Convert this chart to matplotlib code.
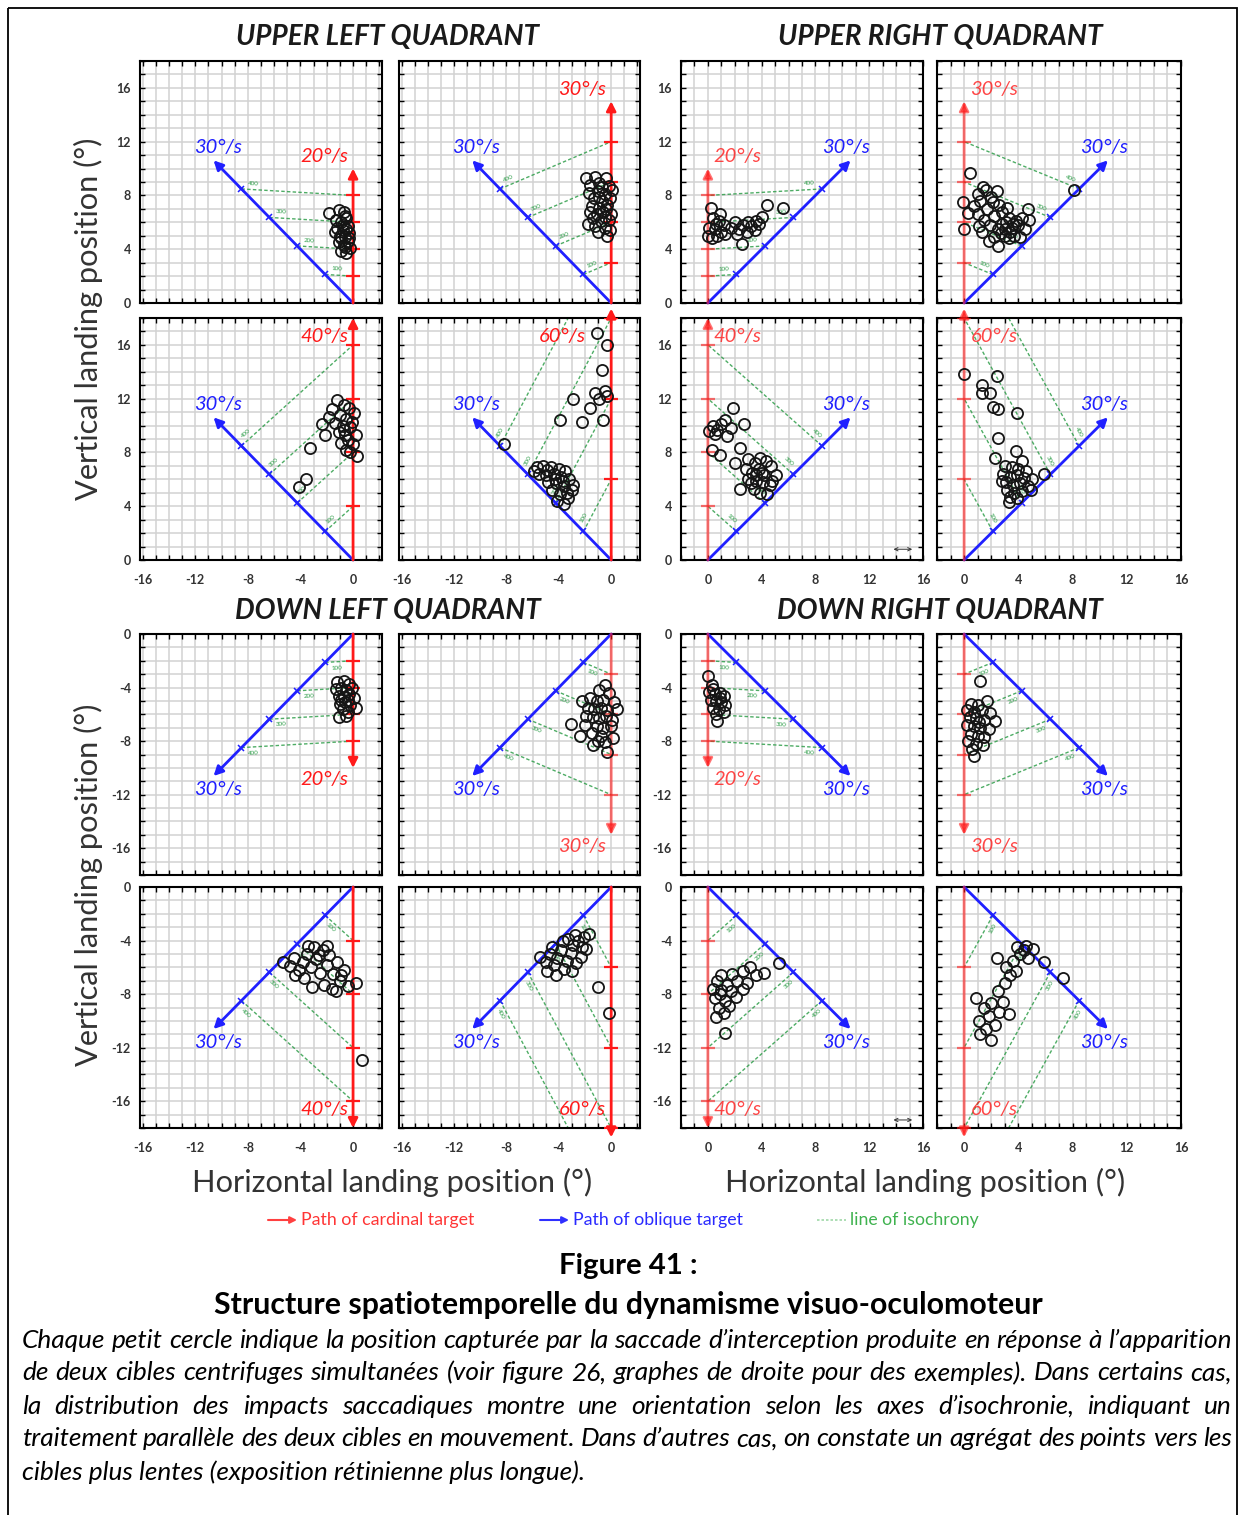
import numpy as np
import matplotlib
matplotlib.use("Agg")
import matplotlib.pyplot as plt
from matplotlib.ticker import MultipleLocator, FuncFormatter
from matplotlib.patches import Rectangle

# ---------------- data ----------------
quadrant_titles = ["UPPER LEFT QUADRANT", "UPPER RIGHT QUADRANT",
                   "DOWN LEFT QUADRANT", "DOWN RIGHT QUADRANT"]
oblique_speed = 30                      # deg/s (blue target)
isochrony_ms = [100, 200, 300, 400]     # isochrony lines
panel_speeds = [[20, 30, 20, 30],       # cardinal (red) target speed per panel
                [40, 60, 40, 60],
                [20, 30, 20, 30],
                [40, 60, 40, 60]]

ul20 = [(-1.8, 6.7), (-1.1, 6.9), (-0.7, 6.8), (-1.3, 6.2), (-0.9, 6.0), (-0.5, 6.3), (-1.2, 5.6),
        (-0.8, 5.4), (-0.4, 5.7), (-1.0, 5.0), (-0.6, 4.9), (-0.3, 5.2), (-1.1, 4.5), (-0.7, 4.3),
        (-0.4, 4.6), (-0.9, 3.9), (-0.5, 3.7), (-0.2, 4.1), (-0.6, 6.5), (-0.8, 5.8), (-1.4, 5.3),
        (-0.3, 4.8), (-0.6, 4.2), (-0.9, 4.8), (-0.5, 5.5)]
ul30 = [(-1.9, 9.3), (-1.2, 9.4), (-0.4, 9.3), (-1.6, 8.8), (-0.9, 8.9), (-0.2, 8.7), (-1.7, 8.2),
        (-1.0, 8.3), (-0.5, 8.1), (0.1, 8.4), (-1.3, 7.8), (-0.7, 7.6), (-0.1, 7.8), (-1.5, 7.2),
        (-0.9, 7.1), (-0.3, 7.3), (-1.1, 6.6), (-0.6, 6.8), (0.0, 6.6), (-1.4, 6.3), (-0.8, 6.1),
        (-0.2, 6.2), (-1.8, 5.9), (-1.2, 5.7), (-0.5, 5.6), (-0.1, 5.4), (-1.0, 5.3), (-0.7, 8.6),
        (-0.4, 7.0), (-1.6, 6.8), (-0.3, 5.0), (-0.9, 7.9), (-0.5, 6.4)]
ur20 = [(0.2, 7.1), (0.0, 5.0), (0.3, 4.8), (0.5, 5.5), (0.8, 6.1), (0.4, 6.3), (1.0, 5.3),
        (1.2, 5.8), (0.7, 5.0), (0.1, 5.6), (0.9, 6.6), (1.3, 5.1), (0.6, 5.9), (2.0, 6.0),
        (2.3, 5.5), (2.6, 5.8), (2.9, 5.3), (3.2, 5.7), (3.5, 5.4), (3.8, 5.9), (4.0, 6.4),
        (2.2, 5.1), (3.0, 6.0), (3.6, 6.1), (2.5, 4.4), (4.4, 7.3), (5.6, 7.1), (1.7, 5.6)]
ur30 = [(0.4, 9.7), (-0.1, 7.5), (0.0, 5.5), (0.3, 6.7), (1.0, 8.1), (1.4, 8.6), (1.6, 8.4),
        (2.4, 8.3), (1.2, 7.6), (2.1, 7.5), (2.6, 7.3), (1.7, 7.0), (3.2, 7.1), (4.7, 7.0),
        (8.1, 8.4), (1.0, 6.6), (1.5, 6.2), (2.2, 6.5), (2.8, 6.8), (1.9, 5.8), (2.5, 5.5),
        (1.3, 5.3), (1.8, 4.6), (2.5, 4.25), (3.0, 5.0), (3.5, 5.6), (3.8, 6.1), (4.3, 6.3),
        (4.5, 5.5), (3.3, 4.8), (2.8, 5.9), (3.1, 6.0), (3.4, 5.3), (3.7, 5.0), (4.0, 5.8),
        (2.7, 5.2), (3.0, 5.5), (3.6, 5.9), (4.1, 4.9), (0.7, 7.2), (2.0, 7.9), (3.3, 6.3),
        (4.8, 6.2), (2.2, 4.9), (1.1, 5.7)]
ul40 = [(-1.2, 11.9), (-0.7, 11.5), (-1.6, 11.2), (-0.3, 11.3), (-1.0, 10.8), (-0.5, 10.5),
        (0.1, 10.9), (-2.4, 10.1), (-1.4, 10.2), (-0.8, 10.0), (-0.2, 9.9), (-2.1, 9.3),
        (-1.1, 9.5), (-0.6, 9.3), (0.2, 9.3), (-0.4, 8.9), (-0.9, 8.7), (0.0, 8.6), (-0.5, 8.2),
        (0.3, 7.7), (-0.2, 8.0), (-3.3, 8.3), (-3.6, 6.0), (-4.1, 5.4), (-1.8, 10.6),
        (-0.1, 10.3), (-0.7, 9.7)]
ul60 = [(-1.1, 16.9), (-0.3, 16.0), (-0.7, 14.1), (-1.2, 12.4), (-0.5, 12.6), (-0.9, 12.0),
        (-0.3, 12.2), (-1.6, 11.3), (-2.9, 12.0), (-3.9, 10.4), (-2.2, 10.3), (-0.6, 10.4),
        (-8.2, 8.6), (-5.7, 6.9), (-5.2, 7.0), (-4.6, 6.9), (-4.0, 6.8), (-3.5, 6.6), (-5.5, 6.4),
        (-5.0, 6.3), (-4.4, 6.4), (-3.8, 6.2), (-3.2, 6.0), (-4.8, 5.8), (-4.2, 5.7), (-3.6, 5.5),
        (-3.0, 5.2), (-4.5, 5.2), (-3.9, 4.9), (-3.3, 4.6), (-4.1, 4.4), (-3.6, 4.2), (-5.9, 6.6),
        (-4.9, 6.7), (-4.3, 6.0), (-3.7, 5.9), (-2.9, 5.6), (-3.4, 5.0)]
ur40 = [(1.9, 11.3), (0.1, 9.6), (0.4, 10.0), (0.7, 9.7), (1.0, 10.1), (1.3, 10.4), (0.5, 9.4),
        (2.7, 10.1), (1.4, 9.2), (1.7, 9.8), (0.3, 8.2), (0.9, 7.8), (2.4, 8.3), (2.0, 7.2),
        (2.4, 5.3), (3.0, 7.5), (3.5, 7.2), (3.9, 7.6), (4.3, 7.4), (4.7, 7.0), (2.8, 6.8),
        (3.3, 6.5), (3.8, 6.8), (4.2, 6.3), (3.0, 6.0), (3.6, 5.9), (4.1, 5.8), (4.6, 5.6),
        (5.1, 6.3), (3.4, 5.3), (3.9, 5.0), (4.4, 4.9), (4.0, 6.5), (3.6, 6.3), (4.8, 5.9),
        (3.2, 5.7)]
ur60 = [(0.0, 13.8), (2.4, 13.7), (1.3, 13.0), (1.9, 12.4), (1.3, 12.4), (2.1, 11.4), (2.5, 11.2),
        (3.9, 10.9), (2.5, 9.1), (3.8, 8.1), (2.3, 7.6), (4.3, 7.4), (5.9, 6.4), (3.3, 4.3),
        (3.0, 7.0), (3.5, 6.9), (4.0, 6.8), (4.6, 6.6), (2.9, 6.4), (3.4, 6.2), (3.9, 6.3),
        (4.4, 6.1), (5.0, 6.0), (3.1, 5.8), (3.6, 5.6), (4.1, 5.7), (4.7, 5.5), (3.2, 5.2),
        (3.7, 5.0), (4.3, 5.1), (3.4, 4.7), (3.9, 4.6), (4.9, 5.2), (2.8, 5.9)]
dl20 = [(-1.2, -3.6), (-0.7, -3.5), (-0.3, -3.7), (-1.3, -4.1), (-0.9, -4.0), (-0.5, -4.2),
        (-0.1, -4.0), (-1.1, -4.6), (-0.7, -4.7), (-0.3, -4.5), (0.1, -4.8), (-1.0, -5.2),
        (-0.6, -5.1), (-0.2, -5.3), (-0.8, -5.6), (-0.4, -5.8), (-1.1, -6.2), (-0.5, -6.1),
        (0.2, -5.5), (-0.9, -4.9), (-0.4, -4.9)]
dl30 = [(-0.45, -3.8), (-0.9, -4.2), (-0.2, -4.4), (-2.2, -5.0), (-1.6, -4.8), (-1.1, -5.0),
        (-0.6, -4.9), (0.2, -5.1), (-1.8, -5.5), (-1.3, -5.6), (-0.8, -5.5), (-0.3, -5.7),
        (0.45, -5.6), (-3.1, -6.7), (-1.9, -6.1), (-1.4, -6.2), (-0.9, -6.3), (-0.4, -6.1),
        (0.1, -6.4), (-2.0, -6.8), (-1.1, -6.9), (-0.6, -7.0), (0.0, -6.9), (-2.4, -7.6),
        (-1.5, -7.4), (-0.8, -7.6), (0.15, -7.8), (-1.4, -8.3), (-0.3, -8.8), (-0.5, -8.1),
        (-1.0, -8.0)]
dr20 = [(0.0, -3.1), (0.3, -3.8), (0.1, -4.3), (0.5, -4.5), (0.9, -4.4), (1.2, -4.6), (0.2, -4.9),
        (0.6, -5.0), (1.0, -5.1), (1.3, -5.3), (0.4, -5.5), (0.8, -5.6), (1.2, -5.8), (0.6, -6.0),
        (0.65, -6.5), (0.9, -4.8), (0.4, -4.1)]
dr30 = [(1.2, -3.5), (1.7, -5.0), (0.5, -5.2), (1.0, -5.3), (0.2, -5.7), (0.7, -5.8), (1.3, -5.7),
        (1.9, -5.9), (0.4, -6.2), (0.9, -6.3), (1.5, -6.4), (2.3, -6.5), (0.2, -6.8), (0.7, -6.9),
        (1.2, -7.0), (1.8, -7.1), (0.5, -7.5), (1.0, -7.6), (1.5, -7.7), (0.3, -8.0), (0.9, -8.2),
        (1.4, -8.3), (0.7, -9.1), (0.6, -8.6), (1.1, -6.6)]
dl40 = [(-5.3, -5.6), (-4.8, -5.9), (-4.5, -5.3), (-4.1, -6.2), (-3.8, -5.6), (-3.5, -5.0),
        (-3.2, -6.0), (-3.0, -4.5), (-2.8, -5.4), (-2.5, -6.4), (-2.3, -4.7), (-2.0, -5.8),
        (-1.8, -5.1), (-1.5, -6.5), (-1.2, -5.6), (-1.0, -7.0), (-0.7, -6.2), (-0.4, -7.4),
        (0.2, -7.2), (-3.1, -7.5), (-2.2, -7.3), (-1.6, -7.6), (-4.4, -6.6), (-3.7, -6.8),
        (-2.6, -5.1), (-3.4, -4.4), (-2.0, -4.4), (-0.9, -6.6), (0.7, -12.9), (-1.3, -7.8)]
dl60 = [(-5.4, -5.2), (-5.0, -5.6), (-4.7, -5.0), (-4.4, -5.8), (-4.1, -5.3), (-3.8, -4.7),
        (-3.6, -6.1), (-3.4, -5.5), (-3.1, -4.9), (-2.9, -4.3), (-2.7, -5.7), (-2.5, -4.0),
        (-2.3, -5.2), (-2.1, -3.7), (-1.9, -4.6), (-1.7, -3.5), (-4.9, -6.3), (-4.2, -6.6),
        (-3.0, -6.3), (-2.2, -4.5), (-3.7, -4.0), (-4.5, -4.5), (-1.0, -7.5), (-0.2, -9.4),
        (-2.8, -3.6), (-3.3, -3.9)]
dr40 = [(0.4, -7.6), (0.7, -7.0), (1.0, -6.6), (1.4, -7.3), (1.8, -6.5), (2.2, -7.0), (2.6, -6.3),
        (3.1, -6.0), (3.6, -6.6), (4.2, -6.4), (5.3, -5.7), (0.5, -8.3), (0.9, -8.0), (1.3, -8.5),
        (1.7, -7.8), (2.1, -8.2), (2.6, -7.6), (0.8, -9.0), (1.2, -9.4), (1.6, -8.9), (0.6, -9.7),
        (1.3, -10.9), (1.0, -7.7), (2.9, -7.2)]
dr60 = [(0.9, -8.3), (1.5, -9.0), (1.1, -10.0), (1.6, -10.6), (2.3, -10.3), (2.0, -11.4),
        (1.2, -11.0), (2.6, -9.3), (2.0, -8.7), (2.5, -7.8), (2.9, -8.6), (3.0, -7.2), (3.4, -6.6),
        (3.1, -6.0), (3.8, -6.3), (3.6, -5.5), (4.1, -5.0), (3.9, -4.5), (4.4, -4.7), (4.7, -5.3),
        (5.1, -4.6), (4.6, -4.4), (5.9, -5.6), (7.3, -6.8), (3.3, -9.5), (1.8, -9.6), (2.4, -5.3)]

panel_points = [[ul20, ul30, ur20, ur30],
                [ul40, ul60, ur40, ur60],
                [dl20, dl30, dr20, dr30],
                [dl40, dl60, dr40, dr60]]

legend_labels = ["Path of cardinal target", "Path of oblique target", "line of isochrony"]
axis_xlabel = "Horizontal landing position (°)"
axis_ylabel = "Vertical landing position (°)"
fig_number = "Figure 41 :"
fig_title = "Structure spatiotemporelle du dynamisme visuo-oculomoteur"
caption_lines = [
    "Chaque petit cercle indique la position capturée par la saccade d’interception produite en réponse à l’apparition",
    "de deux cibles centrifuges simultanées (voir figure 26, graphes de droite pour des exemples). Dans certains cas,",
    "la distribution des impacts saccadiques montre une orientation selon les axes d’isochronie, indiquant un",
    "traitement parallèle des deux cibles en mouvement. Dans d’autres cas, on constate un agrégat des points vers les",
    "cibles plus lentes (exposition rétinienne plus longue).",
]

# ---------------- style ----------------
W, H = 1245, 1515
plt.rcParams['font.family'] = ['Lato', 'DejaVu Sans']
RED = '#ff1a1a'
BLUE = '#2020ff'
GREEN = '#2f9e4a'
fig = plt.figure(figsize=(W / 100, H / 100), dpi=100)
renderer = fig.canvas.get_renderer()

# background axes in pixel coordinates (for layout texts, frame, legend)
bg = fig.add_axes([0, 0, 1, 1])
bg.set_xlim(0, W)
bg.set_ylim(H, 0)
bg.axis('off')
bg.add_patch(Rectangle((8, 8), W - 16, H + 20, fill=False, lw=1.3, ec='black', clip_on=False))


def fit_text(ax, x, y, s, width, rotation=0, base=12, **kw):
    t = ax.text(x, y, s, fontsize=base, **kw)
    w = t.get_window_extent(renderer).width
    t.set_fontsize(base * width / w)
    t.set_rotation(rotation)
    return t


col_px = [(140, 382), (399, 640), (681, 923), (937, 1181)]
row_px = [(61, 303), (318, 560), (634, 875), (887, 1128)]

# speed label font size (fit "30°/s" to ~48 px)
_t = bg.text(0, 0, "30°/s", fontsize=12, style='italic')
speed_fs = 12 * 48 / _t.get_window_extent(renderer).width
_t.remove()

fmt = FuncFormatter(lambda v, p: f"{int(round(v))}".replace('\u2212', '-'))

for r in range(4):
    for c in range(4):
        x0, x1 = col_px[c]
        y0, y1 = row_px[r]
        ax = fig.add_axes([x0 / W, 1 - y1 / H, (x1 - x0) / W, (y1 - y0) / H])
        sx = -1 if c < 2 else 1
        sy = 1 if r < 2 else -1
        v = panel_speeds[r][c]
        pts = np.array(panel_points[r][c])

        ax.set_xlim((-16.2, 2.2) if sx < 0 else (-2, 16))
        ax.set_ylim((0, 18) if sy > 0 else (-18, 0))
        for axis in (ax.xaxis, ax.yaxis):
            axis.set_major_locator(MultipleLocator(4))
            axis.set_minor_locator(MultipleLocator(1))
            axis.set_major_formatter(fmt)
        ax.grid(which='both', color='#d2d2d2', lw=1.1)
        ax.set_axisbelow(True)
        ax.tick_params(which='both', direction='in', top=True, right=True,
                       length=3.5, width=1.0, color='black')
        ax.tick_params(axis='y', pad=6.5, labelsize=9, labelcolor='#333333')
        ax.tick_params(axis='x', pad=10, labelsize=9, labelcolor='#333333')
        ax.tick_params(labelleft=(c in (0, 2)), labelbottom=(r in (1, 3)))
        for lab in ax.get_xticklabels() + ax.get_yticklabels():
            lab.set_fontweight('bold')
        for sp in ax.spines.values():
            sp.set_linewidth(1.5)

        red_alpha = 1.0 if (c < 2 and not (r == 2 and c == 1)) else 0.6
        # oblique target (blue)
        L = oblique_speed * 0.5
        ax.annotate('', xy=(sx * L / np.sqrt(2), sy * L / np.sqrt(2)), xytext=(0, 0),
                    arrowprops=dict(arrowstyle='-|>,head_length=0.55,head_width=0.28',
                                    color=BLUE, lw=2.0, shrinkA=0, shrinkB=0),
                    annotation_clip=False, zorder=3)
        # cardinal target (red)
        cap = 18.7 if v > 45 else 18.0
        Lc = min(v * 0.5, cap)
        ax.annotate('', xy=(0, sy * Lc), xytext=(0, 0),
                    arrowprops=dict(arrowstyle='-|>,head_length=0.55,head_width=0.28',
                                    color=RED, lw=2.0, shrinkA=0, shrinkB=0, alpha=red_alpha),
                    annotation_clip=False, zorder=3)

        times = np.array(isochrony_ms) / 1000.0
        bxs = sx * oblique_speed * times / np.sqrt(2)
        bys = sy * oblique_speed * times / np.sqrt(2)
        rys = sy * v * times
        ax.plot(bxs, bys, ls='none', marker='x', ms=4, mew=1.1, color=BLUE, zorder=3)
        ax.plot(np.zeros_like(rys), rys, ls='none', marker='_', ms=10, mew=1.6,
                color=RED, alpha=red_alpha, zorder=3)
        for ms_, bx, by, ry in zip(isochrony_ms, bxs, bys, rys):
            ax.plot([bx, 0], [by, ry], ls=(0, (2.5, 1.6)), lw=1.0, color=GREEN, alpha=0.85, zorder=2.5)
            dx, dy = -bx, ry - by
            Ln = np.hypot(dx, dy)
            ux, uy = dx / Ln, dy / Ln
            nx, ny = -uy, ux
            if ny * sy < 0:
                nx, ny = -nx, -ny
            px = bx + ux * 0.9 + nx * 0.45
            py = by + uy * 0.9 + ny * 0.45
            ang = np.degrees(np.arctan2(dy, dx))
            if ang > 90:
                ang -= 180
            if ang < -90:
                ang += 180
            ax.text(px, py, str(ms_), fontsize=4.5, color=GREEN, rotation=ang,
                    ha='center', va='center', rotation_mode='anchor', zorder=3, clip_on=True)

        # landing positions
        ax.plot(pts[:, 0], pts[:, 1], ls='none', marker='o', ms=8, mfc='none',
                mec='#151515', mew=1.3, zorder=4, clip_on=False)

        # speed labels
        ax.text(sx * 10.3, sy * 11.6, f"{oblique_speed}°/s", color=BLUE, style='italic',
                fontsize=speed_fs, ha='center', va='center', zorder=5)
        rx = sx * 2.2
        if sx < 0 and sy > 0 and v > 45:
            rx = -3.7
        ry_lab = sy * min(v * 0.5 + 0.9, 16.6)
        ax.text(rx, ry_lab, f"{v}°/s", color=RED, style='italic', alpha=min(1, red_alpha + 0.2),
                fontsize=speed_fs, ha='center', va='center', zorder=5)

        if c == 2 and r in (1, 3):
            yb = 0.8 if sy > 0 else -17.4
            ax.annotate('', xy=(15.2, yb), xytext=(13.8, yb),
                        arrowprops=dict(arrowstyle='<->,head_length=0.25,head_width=0.12',
                                        lw=0.7, color='#333333', shrinkA=0, shrinkB=0))

# quadrant titles
title_boxes = [(387, 37, 301), (940, 37, 323), (388, 611, 304), (940, 611, 325)]
for title, (x, y, wdt) in zip(quadrant_titles, title_boxes):
    fit_text(bg, x, y, title, wdt, ha='center', va='center', fontweight='bold',
             style='italic', color='#1a1a1a')

# axis labels
for yc in (319, 885):
    fit_text(bg, 88, yc, axis_ylabel, 362, rotation=90, ha='center', va='center',
             color='#333333', rotation_mode='anchor')
for xc in (392.5, 925.5):
    fit_text(bg, xc, 1182, axis_xlabel, 399, ha='center', va='center', color='#333333')

# legend
bg.annotate('', xy=(297, 1220), xytext=(268, 1220),
            arrowprops=dict(arrowstyle='-|>,head_length=0.4,head_width=0.2', color='#ff4040',
                            lw=1.5, shrinkA=0, shrinkB=0))
fit_text(bg, 301, 1220, legend_labels[0], 172, ha='left', va='center', color='#ff3535')
bg.annotate('', xy=(569, 1220), xytext=(540, 1220),
            arrowprops=dict(arrowstyle='-|>,head_length=0.4,head_width=0.2', color='#3030ff',
                            lw=1.5, shrinkA=0, shrinkB=0))
fit_text(bg, 573, 1220, legend_labels[1], 169, ha='left', va='center', color='#2a2aff')
bg.plot([817, 846], [1220, 1220], ls=(0, (1.5, 1.2)), lw=1.2, color='#9fd8a8')
fit_text(bg, 850, 1220, legend_labels[2], 128, ha='left', va='center', color='#3fb24f')

# figure caption
fit_text(bg, 628, 1266, fig_number, 138, ha='center', va='center', fontweight='bold', color='black')
fit_text(bg, 628, 1305, fig_title, 822, ha='center', va='center', fontweight='bold', color='black')

_t = bg.text(0, 0, caption_lines[-1], fontsize=15, style='italic')
cap_fs = 15 * 565 / _t.get_window_extent(renderer).width
_t.remove()
line_y = [1340, 1373, 1406, 1439, 1472]
for i, (line, yy) in enumerate(zip(caption_lines, line_y)):
    if i == len(caption_lines) - 1:
        bg.text(22, yy, line, fontsize=cap_fs, style='italic', ha='left', va='center', color='black')
        continue
    words = line.split(' ')
    texts = [bg.text(0, yy, w_, fontsize=cap_fs, style='italic', ha='left', va='center',
                     color='black') for w_ in words]
    widths = [t.get_window_extent(renderer).width for t in texts]
    gap = (1232 - 22 - sum(widths)) / (len(words) - 1)
    xx = 22
    for t, w_ in zip(texts, widths):
        t.set_x(xx)
        xx += w_ + gap

fig.savefig("out.png", dpi=100, facecolor='white')
